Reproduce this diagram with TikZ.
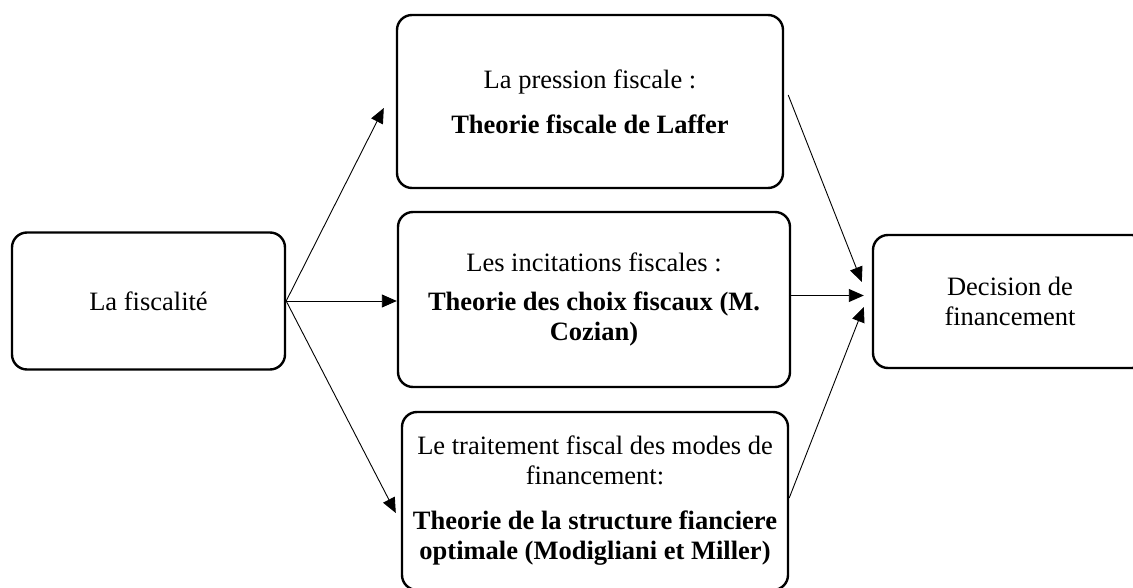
\documentclass[tikz,border=0pt]{standalone}
\usepackage{fontspec}
\setmainfont{Liberation Serif}
\usetikzlibrary{arrows.meta}
\begin{document}
\begin{tikzpicture}[x=1pt, y=-1pt,
   box/.style={draw, line width=2.4pt, rounded corners=15pt, align=center,
               font=\fontsize{26.5}{30}\selectfont, inner sep=0pt},
   fleche/.style={-{Triangle[length=15pt, width=13pt]}, line width=0.9pt}]

\useasboundingbox (0,0) rectangle (1133,588);

\node[box, minimum width=273pt, minimum height=137pt] (fisc) at (148.5,301) {La fiscalit\'e};
\node[box, minimum width=386pt, minimum height=173pt] (pression) at (590,101.5)
    {La pression fiscale :\\[15pt]\textbf{Theorie fiscale de Laffer}};
\node[box, minimum width=392pt, minimum height=175pt] (incit) at (594,299.5)
    {Les incitations fiscales :\\[9pt]\textbf{Theorie des choix fiscaux (M.}\\\textbf{Cozian)}};
\node[box, minimum width=386pt, minimum height=178pt] (traitement) at (595,501)
    {Le traitement fiscal des modes de\\financement:\\[15pt]\textbf{Theorie de la structure fianciere}\\\textbf{optimale (Modigliani et Miller)}};
\node[box, minimum width=274pt, minimum height=133pt] (decision) at (1010,301.5)
    {Decision de\\financement};

\draw[fleche] (fisc.east) -- ([shift={(-12,6.5)}]pression.west);
\draw[fleche] (fisc.east) -- (fisc.east -| incit.west);
\draw[fleche] (fisc.east) -- ([shift={(-5,12)}]traitement.west);

\draw[fleche] ([shift={(4,-6.5)}]pression.east) -- ([shift={(-10,-19.5)}]decision.west);
\draw[fleche] ([yshift=4pt]incit.east) -- ([yshift=4pt,xshift=-8pt]incit.east -| decision.west);
\draw[fleche] ([yshift=3pt]traitement.east) -- ([shift={(-8,5.5)}]decision.west);

\end{tikzpicture}
\end{document}
